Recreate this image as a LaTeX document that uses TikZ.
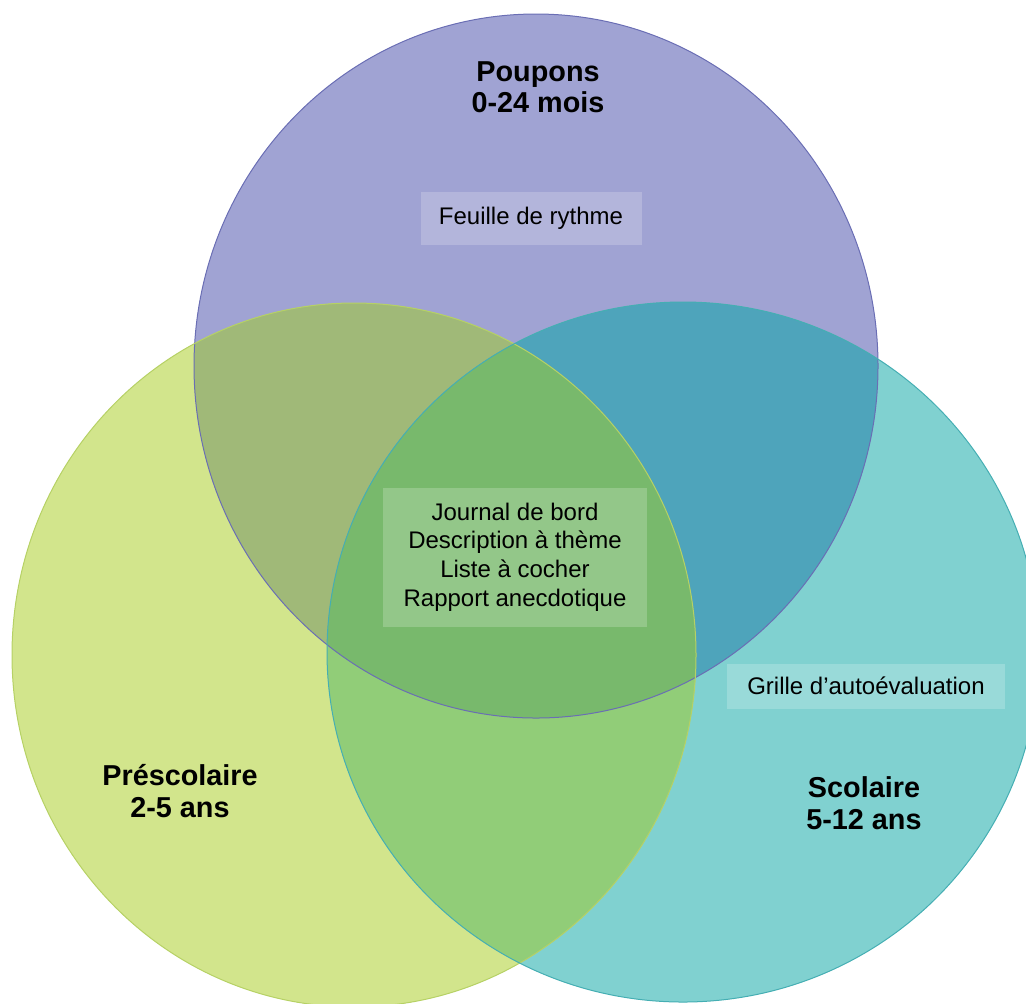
\documentclass[tikz,border=0pt]{standalone}
\usepackage{fontspec}
\setmainfont{Liberation Sans}
\usepackage{tikz}

\definecolor{bleuP}{HTML}{A0A3D3}
\definecolor{vertE}{HTML}{D2E58C}
\definecolor{turqS}{HTML}{80D1D0}
\definecolor{bleuvert}{HTML}{A0B978}
\definecolor{bleuturq}{HTML}{4EA4BB}
\definecolor{vertturq}{HTML}{91CD78}
\definecolor{centre}{HTML}{78B96C}
\definecolor{bordP}{HTML}{6A6EB4}
\definecolor{bordE}{HTML}{B6D165}
\definecolor{bordS}{HTML}{45AEB3}

\begin{document}
\begin{tikzpicture}[x=0.5pt, y=-0.5pt,
    etiquette/.style={fill=white, fill opacity=0.2, text opacity=1, inner sep=0pt,
      align=center, font=\fontsize{12}{14.3}\selectfont},
    titre/.style={align=center, font=\bfseries\fontsize{14.4}{15.7}\selectfont}]
        \useasboundingbox (0,0) rectangle (1026,1003);
        \coordinate (P) at (536, 366);
        \coordinate (E) at (354, 655);
        \coordinate (S) at (683, 652);
        \def\cercleP{(P) ellipse [x radius=171pt, y radius=176pt]}
        \def\cercleE{(E) ellipse [x radius=171pt, y radius=176pt]}
        \def\cercleS{(S) ellipse [x radius=178pt, y radius=175pt]}

        \fill[bleuP] \cercleP;
        \fill[vertE] \cercleE;
        \fill[turqS] \cercleS;
        \begin{scope}
            \clip \cercleP;
            \fill[bleuvert] \cercleE;
            \fill[bleuturq] \cercleS;
        \end{scope}
        \begin{scope}
            \clip \cercleE;
            \fill[vertturq] \cercleS;
        \end{scope}
        \begin{scope}
            \clip \cercleP;
            \clip \cercleE;
            \fill[centre] \cercleS;
        \end{scope}
        \draw[bordP, line width=0.5pt] \cercleP;
        \draw[bordE, line width=0.5pt] \cercleE;
        \draw[bordS, line width=0.5pt] \cercleS;

        \node[titre] (poupons) at (538, 87) {Poupons\\0-24 mois};
        \node[titre] (prescolaire) at (180, 791) {Préscolaire\\2-5 ans};
        \node[titre] (scolaire) at (864, 803) {Scolaire\\5-12 ans};

        \node[etiquette, minimum width=110.5pt, minimum height=26.5pt] (rythme) at (531, 218) {Feuille de rythme};
        \node[etiquette, minimum width=132pt, minimum height=69.5pt] (communs) at (515, 557)
            {Journal de bord\\Description à thème\\Liste à cocher\\Rapport anecdotique};
        \node[etiquette, minimum width=139pt, minimum height=22.5pt] (grille) at (866, 686) {Grille d’autoévaluation};
    \end{tikzpicture}
\end{document}
